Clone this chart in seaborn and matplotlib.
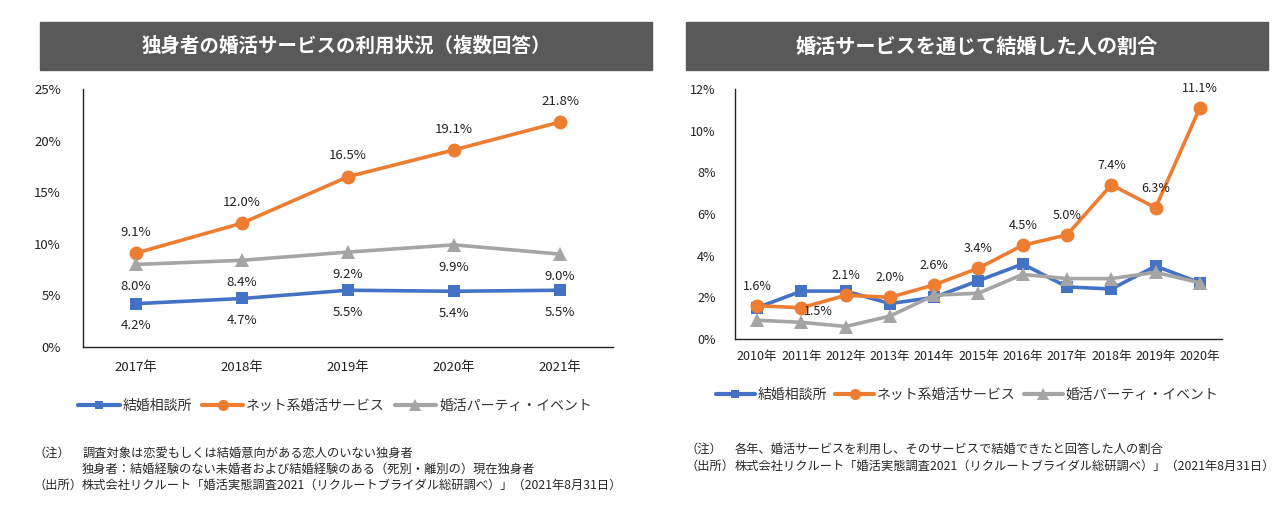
import pandas as pd
import seaborn as sns
import matplotlib.pyplot as plt
from matplotlib.ticker import PercentFormatter, FixedLocator
from matplotlib.patches import Rectangle
from matplotlib.lines import Line2D

# left chart data
years_l = ['2017年', '2018年', '2019年', '2020年', '2021年']
soudan_l = [4.2, 4.7, 5.5, 5.4, 5.5]
net_l = [9.1, 12.0, 16.5, 19.1, 21.8]
party_l = [8.0, 8.4, 9.2, 9.9, 9.0]

# right chart data
years_r = ['2010年', '2011年', '2012年', '2013年', '2014年', '2015年',
           '2016年', '2017年', '2018年', '2019年', '2020年']
soudan_r = [1.5, 2.3, 2.3, 1.7, 2.0, 2.8, 3.6, 2.5, 2.4, 3.5, 2.7]
net_r = [1.6, 1.5, 2.1, 2.0, 2.6, 3.4, 4.5, 5.0, 7.4, 6.3, 11.1]
party_r = [0.9, 0.8, 0.6, 1.1, 2.1, 2.2, 3.1, 2.9, 2.9, 3.2, 2.7]

series_names = ['結婚相談所', 'ネット系婚活サービス', '婚活パーティ・イベント']
colors = ['#4472C4', '#ED7D31', '#A5A5A5']
markers = ['s', 'o', '^']
msizes = [8, 10, 10]

sns.set_theme(style='white')
plt.rcParams['font.family'] = ['Noto Sans CJK JP', 'DejaVu Sans']

W, H = 1286, 508
fig = plt.figure(figsize=(W / 100, H / 100), dpi=100)


def fx(px):
    return px / W


def fy(py):
    return 1 - py / H


def title_band(x0, x1, text, size):
    fig.patches.append(Rectangle((fx(x0), fy(70)), fx(x1 - x0), 48 / H,
                                 transform=fig.transFigure, color='#595959', zorder=0))
    fig.text(fx((x0 + x1) / 2), fy(46), text, color='white', fontsize=size,
             fontweight='bold', ha='center', va='center')


def draw_panel(ax, cats, vals_list, ymax, ystep):
    rows = []
    for name, vals in zip(series_names, vals_list):
        for i, v in enumerate(vals):
            rows.append({'idx': i, 'val': v, 'series': name})
    df = pd.DataFrame(rows)
    for name, c, m, ms in zip(series_names, colors, markers, msizes):
        sub = df[df['series'] == name]
        sns.lineplot(data=sub, x='idx', y='val', ax=ax, color=c, marker=m,
                     markersize=ms, markeredgewidth=0, linewidth=2.6, legend=False)
    n = len(cats)
    ax.set_xlim(-0.5, n - 0.5)
    ax.set_ylim(0, ymax)
    ax.set_xticks(range(n))
    ax.set_xticklabels(cats)
    ax.xaxis.set_minor_locator(FixedLocator([i + 0.5 for i in range(-1, n)]))
    ax.set_yticks(range(0, ymax + 1, ystep))
    ax.yaxis.set_major_formatter(PercentFormatter(decimals=0))
    ax.tick_params(axis='x', which='major', length=0, pad=10, labelsize=9.5, colors='#222222')
    ax.tick_params(axis='x', which='minor', length=4, direction='in', color='#222222')
    ax.tick_params(axis='y', which='major', length=0, pad=16, labelsize=9.5, colors='#222222')
    ax.set_xlabel('')
    ax.set_ylabel('')
    for s in ['top', 'right']:
        ax.spines[s].set_visible(False)
    for s in ['left', 'bottom']:
        ax.spines[s].set_color('#222222')
        ax.spines[s].set_linewidth(1.0)
    ax.patch.set_alpha(0)


# left panel
title_band(40, 652, '独身者の婚活サービスの利用状況（複数回答）', 14)
axl = fig.add_axes([fx(83), fy(347), fx(613 - 83), (347 - 89) / H])
draw_panel(axl, years_l, [soudan_l, net_l, party_l], 25, 5)
for i, v in enumerate(net_l):
    axl.annotate(f'{v:.1f}%', (i, v), xytext=(0, 15), textcoords='offset points',
                 ha='center', va='center', fontsize=9.5, color='#222222')
for vals in [party_l, soudan_l]:
    for i, v in enumerate(vals):
        axl.annotate(f'{v:.1f}%', (i, v), xytext=(0, -16), textcoords='offset points',
                     ha='center', va='center', fontsize=9.5, color='#222222')

# right panel
title_band(686, 1268, '婚活サービスを通じて結婚した人の割合', 14.5)
axr = fig.add_axes([fx(735), fy(339), fx(1222 - 735), (339 - 89) / H])
draw_panel(axr, years_r, [soudan_r, net_r, party_r], 12, 2)
axr.tick_params(axis='x', which='major', pad=8, labelsize=9)
axr.tick_params(axis='y', which='major', pad=14, labelsize=9)
for i, v in enumerate(net_r):
    off = (12, -3) if i == 1 else (0, 14)
    axr.annotate(f'{v:.1f}%', (i, v), xytext=off, textcoords='offset points',
                 ha='center', va='center', fontsize=9, color='#222222')

# legends
handles = [Line2D([], [], color=c, marker=m, markersize=ms * 0.8, markeredgewidth=0,
                  linewidth=3) for c, m, ms in zip(colors, markers, msizes)]
fig.legend(handles, series_names, loc='center', bbox_to_anchor=(fx(335), fy(406)),
           ncol=3, frameon=False, fontsize=10, handlelength=3.0, handletextpad=0.2,
           columnspacing=0.7, labelcolor='#333333')
fig.legend(handles, series_names, loc='center', bbox_to_anchor=(fx(967), fy(395)),
           ncol=3, frameon=False, fontsize=10, handlelength=2.8, handletextpad=0.2,
           columnspacing=0.6, labelcolor='#333333')

# footnotes
fs = 8.8
fig.text(fx(33), fy(453), '（注）', fontsize=fs, va='center')
fig.text(fx(82), fy(453), '調査対象は恋愛もしくは結婚意向がある恋人のいない独身者', fontsize=fs, va='center')
fig.text(fx(82), fy(469), '独身者：結婚経験のない未婚者および結婚経験のある（死別・離別の）現在独身者',
         fontsize=fs, va='center')
fig.text(fx(33), fy(485), '（出所）', fontsize=fs, va='center')
fig.text(fx(82), fy(485), '株式会社リクルート「婚活実態調査2021（リクルートブライダル総研調べ）」（2021年8月31日）',
         fontsize=fs, va='center')

fig.text(fx(686), fy(449), '（注）', fontsize=fs, va='center')
fig.text(fx(735), fy(449), '各年、婚活サービスを利用し、そのサービスで結婚できたと回答した人の割合',
         fontsize=fs, va='center')
fig.text(fx(686), fy(466), '（出所）', fontsize=fs, va='center')
fig.text(fx(735), fy(466), '株式会社リクルート「婚活実態調査2021（リクルートブライダル総研調べ）」（2021年8月31日）',
         fontsize=fs, va='center')

fig.savefig('out.png', dpi=100, facecolor='white')
